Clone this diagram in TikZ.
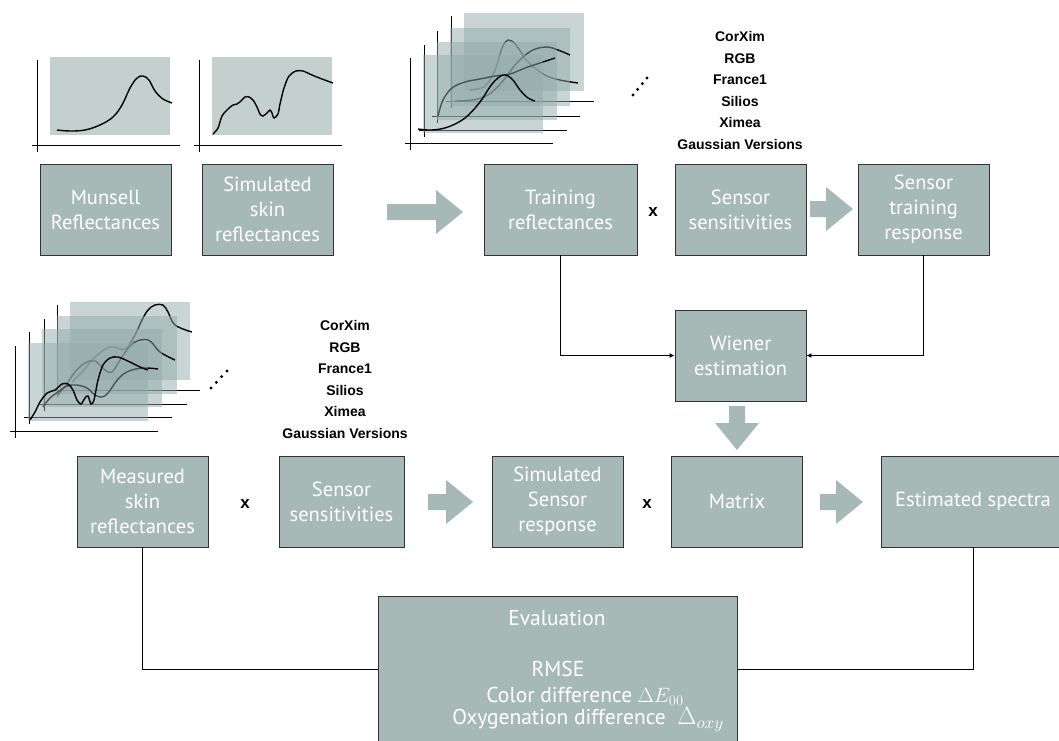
\documentclass[tikz,border=0pt]{standalone}
\usepackage{fontspec}
\setmainfont{PT Sans}
\newfontfamily\listfont{Liberation Sans}
\usetikzlibrary{calc,arrows.meta}
\definecolor{boxgray}{HTML}{A7B9B7}
\definecolor{plotgray}{HTML}{C3D0CE}
\definecolor{layergray}{HTML}{93ABA9}
\def\specframe[#1](#2,#3){\fill[#1] (#2,#3) rectangle ++(120,78); \draw[axis] (#2-13,#3+3) -- ++(0,92); \draw[axis] (#2-18,#3+88) -- ++(148,0);}
\def\rblock(#1,#2:#3){\fill[boxgray] (#1,#3-8) -- (#2-27,#3-8) -- (#2-27,#3-22) -- (#2,#3) -- (#2-27,#3+22) -- (#2-27,#3+8) -- (#1,#3+8) -- cycle;}
\def\dblock(#1:#2,#3){\fill[boxgray] (#1-8,#2) -- (#1-8,#3-27) -- (#1-22,#3-27) -- (#1,#3) -- (#1+22,#3-27) -- (#1+8,#3-27) -- (#1+8,#2) -- cycle;}

\begin{document}
\begin{tikzpicture}[x=1pt, y=-1pt,
	blk/.style={draw=black!80, line width=0.9pt, fill=boxgray, text=white, align=center, minimum width=131pt, minimum height=91pt, inner sep=2pt, font=\fontsize{20.5}{25}\selectfont},
	evaltxt/.style={text=white, font=\fontsize{21.5}{25}\selectfont},
	lst/.style={align=center, font=\listfont\bfseries\fontsize{14}{21.5}\selectfont},
	mult/.style={font=\listfont\bfseries\fontsize{17}{17}\selectfont},
	axis/.style={line width=0.9pt},
	curve/.style={line width=1.4pt},
	layer/.style={fill=layergray, fill opacity=0.5},
	conn/.style={line width=0.9pt}]
		%%%%% START %%%%%
		\useasboundingbox (0,0) rectangle (1059,740);
		\clip (0,0) rectangle (1059,740);
		
		% single spectra
		\specframe[plotgray](50,57)
		\draw[curve] plot[smooth, tension=0.6] coordinates {(57,130) (70,131) (85,130) (100,125) (113,117) (122,105) (130,88) (137,78) (143,76) (149,80) (155,91) (163,99) (172,103)};
		\specframe[plotgray](212,57)
		\draw[curve] plot[smooth, tension=0.5] coordinates {(213,134) (218,128) (222,116) (228,109) (233,105) (237,104) (241,101) (245,97) (249,97) (253,100) (257,107) (260,114) (263,116) (267,113) (270,110) (272,113) (274,118) (278,114) (280,104) (284,88) (289,76) (296,71) (303,71) (312,75) (322,79) (333,83)};
		
		% training stack
		\specframe[layer](464,13)
		\draw[curve] plot[smooth, tension=0.6] coordinates {(470,90) (485,86) (495,70) (502,48) (508,40) (516,45) (528,62) (545,75) (560,80) (578,83)};
		\specframe[layer](450,28)
		\draw[curve] plot[smooth, tension=0.6] coordinates {(455,101) (472,100) (488,95) (502,82) (516,64) (531,51) (546,47) (558,50) (570,55)};
		\specframe[layer](437,42)
		\draw[curve] plot[smooth, tension=0.6] coordinates {(438,116) (443,100) (452,88) (465,82) (480,79) (495,76) (510,74) (525,68) (540,63) (555,58)};
		\specframe[layer](423,55)
		\draw[curve] plot[smooth, tension=0.6] coordinates {(418,129) (432,130) (448,127) (465,118) (480,102) (492,84) (503,75) (512,79) (520,90) (528,98) (535,101)};
		\foreach \t in {0,1,2,3}
			\fill ($(633,95)!\t/3!(647,78)$) circle (1.6);
		
		% measured stack
		\specframe[layer](70,302)
		\draw[curve] plot[smooth, tension=0.6] coordinates {(72,382) (82,372) (95,357) (110,347) (125,349) (135,335) (142,320) (148,310) (155,305) (163,305) (168,312) (175,325) (192,332)};
		\specframe[layer](57,316)
		\draw[curve] plot[smooth, tension=0.6] coordinates {(58,395) (66,385) (75,372) (85,363) (95,361) (105,370) (112,372) (120,360) (130,346) (140,340) (150,341) (160,352) (175,360)};
		\specframe[layer](42,329)
		\draw[curve] plot[smooth, tension=0.6] coordinates {(43,407) (50,398) (58,392) (67,386) (77,385) (87,388) (95,395) (102,397) (108,393) (115,383) (122,375) (132,370) (145,368) (158,369)};
		\specframe[layer](28,343)
		\draw[curve] plot[smooth, tension=0.5] coordinates {(30,420) (35,412) (40,402) (47,393) (55,390) (62,384) (68,384) (73,390) (77,400) (81,404) (85,398) (88,396) (91,404) (94,400) (98,380) (103,365) (110,358) (118,357) (130,362) (140,367) (148,370)};
		\foreach \t in {0,1,2,3}
			\fill ($(211,388)!\t/3!(227,371)$) circle (1.6);
		
		% sensor lists
		\node[lst] (sensorsA) at (740,90.5) {CorXim\\RGB\\France1\\Silios\\Ximea\\Gaussian Versions};
		\node[lst] (sensorsB) at (345,379.5) {CorXim\\RGB\\France1\\Silios\\Ximea\\Gaussian Versions};
		
		% boxes
		\node[blk] (munsell) at (105.5,209.5) {Munsell\\Reflectances};
		\node[blk] (simskin) at (267.5,209.5) {Simulated\\skin\\reflectances};
		\node[blk, minimum width=153pt] (train) at (560.5,209.5) {Training\\reflectances};
		\node[blk] (sens) at (740.5,209.5) {Sensor\\sensitivities};
		\node[blk] (sensresp) at (923.5,209.5) {Sensor\\training\\response};
		\node[blk] (wiener) at (740.5,355.5) {Wiener\\estimation};
		\node[blk] (measured) at (142.5,501.5) {Measured\\skin\\reflectances};
		\node[blk, minimum width=125pt] (senstwo) at (341.5,501.5) {Sensor\\sensitivities};
		\node[blk] (simresp) at (557.5,501.5) {Simulated\\Sensor\\response};
		\node[blk] (matrix) at (737,501.5) {Matrix};
		\node[blk, minimum width=184pt] (estim) at (973,501.5) {Estimated spectra};
		\node[blk, minimum width=359pt, minimum height=146pt] (evalbox) at (557.5,669) {};
		
		\node[evaltxt] (evaltitle) at (557,618) {Evaluation};
		\node[evaltxt] (rmse) at (558,669) {RMSE};
		\node[evaltxt] (colordiff) at (585,696) {Color difference $\Delta E_{00}$};
		\node[evaltxt] (oxydiff) at (588,720) {Oxygenation difference\ \ {\fontsize{27}{27}\selectfont$\Delta_{oxy}$}};
		
		\node[mult] (timesA) at (653,212) {x};
		\node[mult] (timesB) at (245,504) {x};
		\node[mult] (timesC) at (647,504) {x};
		
		% block arrows
		\rblock(387,463:212)
		\rblock(810,853:209)
		\dblock(737:406,450)
		\rblock(428,473:502)
		\rblock(820,863:502)
		
		% connectors
		\draw[conn, -{Latex[length=5pt,width=5pt]}] (train.south) |- (wiener.west);
		\draw[conn, -{Latex[length=5pt,width=5pt]}] (sensresp.south) |- (wiener.east);
		\draw[conn] (measured.south) |- (evalbox.west);
		\draw[conn] (estim.south) |- (evalbox.east);
		
		%%%%% END %%%%%
\end{tikzpicture}
\end{document}
